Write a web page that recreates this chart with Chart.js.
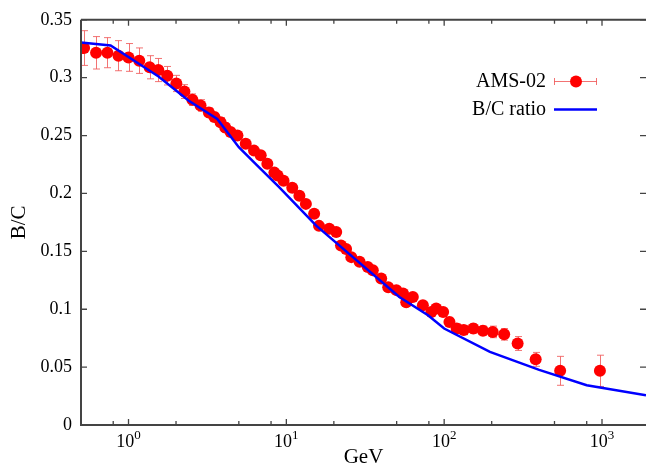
<!DOCTYPE html>
<html><head><meta charset="utf-8">
<script src="https://cdn.jsdelivr.net/npm/chart.js@4/dist/chart.umd.min.js"></script>
<style>html,body{margin:0;padding:0;background:#fff}#wrap{width:646px;height:466px}</style>
</head><body><div id="wrap"><canvas id="c" width="646" height="466"></canvas></div>
<script>
// AMS-02 B/C data (energy in GeV, ratio, symmetric error)
const amsEnergy = [0.523,0.623,0.735,0.864,1.0,1.17,1.36,1.545,1.76,2.01,2.26,2.54,2.86,3.23,3.5,3.83,4.1,4.43,4.9,5.53,6.24,6.88,7.58,8.4,8.8,9.6,10.9,12.1,13.3,15.0,16.1,18.7,20.7,22.2,23.9,25.8,29.1,32.8,35.3,39.9,44.2,49.8,54.9,57.5,63.3,73.3,83,89,98.5,108,120,133,153,176,203,240,292,380,543,970];
const amsRatio = [0.3256,0.3215,0.3216,0.319,0.3175,0.3147,0.309,0.3066,0.3017,0.295,0.288,0.281,0.276,0.270,0.266,0.2615,0.257,0.253,0.250,0.243,0.237,0.233,0.2256,0.218,0.2155,0.211,0.205,0.198,0.191,0.1825,0.172,0.1695,0.1667,0.155,0.152,0.145,0.141,0.1365,0.1336,0.1265,0.119,0.1165,0.1135,0.106,0.1106,0.1034,0.0977,0.1006,0.0977,0.089,0.0833,0.082,0.0833,0.0815,0.0804,0.0783,0.0704,0.0567,0.0468,0.0468];
const amsError = [0.015,0.014,0.013,0.013,0.012,0.011,0.010,0.010,0.008,0.007,0.006,0.005,0.005,0.004,0.004,0.004,0.004,0.003,0.003,0.003,0.003,0.003,0.003,0.003,0.003,0.003,0.003,0.003,0.003,0.003,0.003,0.003,0.003,0.003,0.003,0.003,0.003,0.003,0.003,0.003,0.003,0.003,0.003,0.003,0.003,0.003,0.003,0.003,0.003,0.004,0.004,0.004,0.004,0.004,0.005,0.005,0.006,0.006,0.0125,0.0135];
// Model B/C ratio curve
const modelEnergy = [0.5,0.77,1.55,2.41,3.65,5.0,6.55,9.0,15.4,52,79,100,195,400,800,1900];
const modelRatio = [0.3304,0.3278,0.301,0.280,0.2644,0.240,0.224,0.2055,0.1724,0.1106,0.0948,0.0833,0.0632,0.0476,0.0343,0.0256];
// Axes
const xMajorTicks = [1,10,100,1000];
const xTickExponents = ['0','1','2','3'];
const xMinorTicks = [0.8,2,5,8,20,50,80,200,500,800];
const yTicks = [0,0.05,0.1,0.15,0.2,0.25,0.3,0.35];
const seriesNames = ['AMS-02','B/C ratio'];

const SERIF = '"Liberation Serif", "Times New Roman", serif';

const decor = {
  id: 'decor',
  beforeDatasetsDraw(chart) {
    const {ctx, scales: {x, y}} = chart;
    ctx.save();
    ctx.strokeStyle = 'rgba(240,90,90,0.85)';
    ctx.lineWidth = 1;
    for (let i = 0; i < amsEnergy.length; i++) {
      const px = Math.round(x.getPixelForValue(amsEnergy[i])) + 0.5;
      const y1 = y.getPixelForValue(amsRatio[i] - amsError[i]);
      const y2 = y.getPixelForValue(amsRatio[i] + amsError[i]);
      ctx.beginPath();
      ctx.moveTo(px, y1); ctx.lineTo(px, y2);
      ctx.moveTo(px - 3.5, y1); ctx.lineTo(px + 3.5, y1);
      ctx.moveTo(px - 3.5, y2); ctx.lineTo(px + 3.5, y2);
      ctx.stroke();
    }
    ctx.restore();
  },
  afterDraw(chart) {
    const {ctx, chartArea: a, scales: {x, y}} = chart;
    ctx.save();
    // frame
    ctx.strokeStyle = '#444';
    ctx.lineWidth = 2;
    ctx.beginPath();
    ctx.moveTo(a.left, a.top); ctx.lineTo(a.right, a.top);
    ctx.moveTo(a.left, a.top); ctx.lineTo(a.left, a.bottom); ctx.lineTo(a.right, a.bottom);
    ctx.stroke();
    // ticks
    ctx.lineWidth = 1.3;
    ctx.beginPath();
    yTicks.forEach(v => {
      const py = y.getPixelForValue(v);
      ctx.moveTo(a.left, py); ctx.lineTo(a.left + 6, py);
      ctx.moveTo(a.right, py); ctx.lineTo(a.right - 6, py);
    });
    xMajorTicks.forEach(v => {
      const px = x.getPixelForValue(v);
      ctx.moveTo(px, a.bottom); ctx.lineTo(px, a.bottom - 6);
      ctx.moveTo(px, a.top); ctx.lineTo(px, a.top + 6);
    });
    xMinorTicks.forEach(v => {
      const px = x.getPixelForValue(v);
      ctx.moveTo(px, a.bottom); ctx.lineTo(px, a.bottom - 4);
      ctx.moveTo(px, a.top); ctx.lineTo(px, a.top + 4);
    });
    ctx.stroke();
    // x tick labels with superscripts
    ctx.fillStyle = '#000';
    ctx.textBaseline = 'alphabetic';
    ctx.textAlign = 'left';
    xMajorTicks.forEach((v, i) => {
      const px = x.getPixelForValue(v);
      ctx.font = '18px ' + SERIF;
      const wb = ctx.measureText('10').width;
      ctx.font = '13px ' + SERIF;
      const we = ctx.measureText(xTickExponents[i]).width;
      const start = px - (wb + we) / 2;
      ctx.font = '18px ' + SERIF;
      ctx.fillText('10', start, 446.5);
      ctx.font = '13px ' + SERIF;
      ctx.fillText(xTickExponents[i], start + wb, 438.5);
    });
    // legend
    ctx.font = '20px ' + SERIF;
    ctx.textAlign = 'right';
    ctx.textBaseline = 'middle';
    ctx.fillText(seriesNames[0], 546, 82);
    ctx.fillText(seriesNames[1], 546, 110);
    ctx.strokeStyle = 'rgba(240,90,90,0.85)';
    ctx.lineWidth = 1;
    ctx.beginPath();
    ctx.moveTo(554, 81.5); ctx.lineTo(597, 81.5);
    ctx.moveTo(554.5, 78); ctx.lineTo(554.5, 85);
    ctx.moveTo(596.5, 78); ctx.lineTo(596.5, 85);
    ctx.stroke();
    ctx.fillStyle = '#ff0000';
    ctx.beginPath(); ctx.arc(576, 81.5, 6, 0, Math.PI * 2); ctx.fill();
    ctx.strokeStyle = '#0000ff';
    ctx.lineWidth = 2.5;
    ctx.beginPath(); ctx.moveTo(554, 109.5); ctx.lineTo(597, 109.5); ctx.stroke();
    ctx.restore();
  }
};

new Chart(document.getElementById('c'), {
  type: 'scatter',
  data: {
    datasets: [
      {
        label: seriesNames[1],
        data: modelEnergy.map((e, i) => ({x: e, y: modelRatio[i]})),
        showLine: true,
        borderColor: '#0000ff',
        borderWidth: 2.5,
        pointRadius: 0,
        tension: 0,
        order: 0
      },
      {
        label: seriesNames[0],
        data: amsEnergy.map((e, i) => ({x: e, y: amsRatio[i]})),
        showLine: false,
        backgroundColor: '#ff0000',
        borderWidth: 0,
        pointRadius: 6,
        order: 1
      }
    ]
  },
  options: {
    responsive: false,
    animation: false,
    devicePixelRatio: 1,
    layout: {autoPadding: false, padding: {top: 19, right: 0, bottom: 0, left: 0}},
    plugins: {legend: {display: false}, tooltip: {enabled: false}},
    scales: {
      x: {
        type: 'logarithmic',
        min: 0.5,
        max: 1900,
        grid: {display: false, drawTicks: false},
        border: {display: false},
        ticks: {display: false},
        afterBuildTicks: s => { s.ticks = xMajorTicks.map(v => ({value: v})); },
        afterFit: s => { s.height = 41; },
        title: {display: true, text: 'GeV', color: '#000', font: {family: SERIF, size: 21, lineHeight: 0.8}, padding: {top: 0, bottom: 0}}
      },
      y: {
        type: 'linear',
        min: 0,
        max: 0.35,
        grid: {display: false, drawTicks: false},
        border: {display: false},
        afterBuildTicks: s => { s.ticks = yTicks.map(v => ({value: v})); },
        ticks: {color: '#000', padding: 9, font: {family: SERIF, size: 18}, callback: v => String(+v.toFixed(2))},
        afterFit: s => { s.width = 81; },
        title: {display: true, text: 'B/C', color: '#000', font: {family: SERIF, size: 21, lineHeight: 1.2}, padding: {top: 7, bottom: 0}}
      }
    }
  },
  plugins: [decor]
});
</script></body></html>
